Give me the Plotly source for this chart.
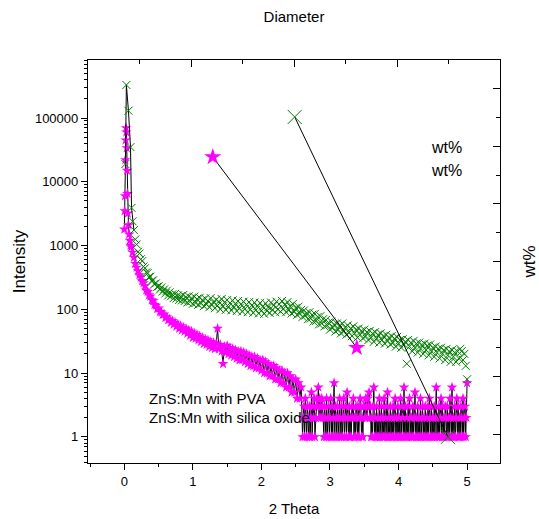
import plotly.graph_objects as go

# ZnS:Mn with PVA (green crosses) - sharp peak then the slow scattering tail
pva_peak_x = [0.015, 0.03, 0.06, 0.09, 0.105]
pva_peak_y = [19000, 330000, 130000, 35000, 3900]
pva_x0, pva_step = 0.12, 0.02
pva_y = [2400, 1750, 1250, 1040, 800, 750, 610, 570, 470, 440,
         380, 370, 320, 325, 280, 285, 250, 255, 225, 230,
         205, 220, 190, 205, 178, 196, 165, 185, 160, 172,
         150, 175, 148, 165, 140, 160, 138, 168, 135, 155,
         128, 160, 132, 150, 122, 158, 126, 145, 118, 152,
         124, 140, 112, 148, 120, 135, 108, 150, 118, 130,
         104, 142, 115, 132, 100, 145, 112, 128, 98, 140,
         110, 125, 96, 138, 108, 122, 94, 135, 104, 120,
         92, 132, 102, 118, 90, 130, 100, 115, 88, 128,
         98, 112, 86, 126, 96, 110, 85, 124, 95, 108,
         88, 128, 98, 115, 90, 132, 100, 120, 92, 135,
         102, 118, 90, 130, 98, 112, 86, 122, 92, 105,
         82, 110, 86, 98, 76, 96, 80, 88, 70, 90,
         72, 82, 64, 85, 66, 76, 58, 78, 60, 70,
         54, 68, 56, 62, 48, 64, 52, 58, 45, 60,
         48, 55, 42, 60, 45, 52, 40, 56, 43, 50,
         38, 54, 42, 48, 36, 50, 40, 46, 35, 48,
         38, 44, 33, 46, 36, 42, 31, 44, 35, 40,
         30, 42, 33, 38, 29, 40, 32, 36, 28, 38,
         30, 35, 26, 37, 29, 33, 25, 34, 28, 31,
         14, 33, 26, 30, 22, 32, 25, 29, 21, 30,
         24, 28, 20, 29, 23, 27, 19, 28, 22, 25,
         18, 26, 21, 24, 17, 25, 20, 23, 16, 24,
         19, 22, 15, 23, 18, 21, 15, 22, 17, 24,
         22, 16, 20, 13, 8]

# ZnS:Mn with silica oxide (magenta stars)
sil_peak_x = [0.0, 0.005, 0.01, 0.015, 0.02, 0.025, 0.03, 0.035,
              0.04, 0.045, 0.05, 0.06, 0.07, 0.08, 0.09]
sil_peak_y = [1800, 3500, 6000, 22000, 45000, 70000, 60000, 34000,
              15000, 6500, 3200, 2100, 1500, 1200, 1000]
sil_x0, sil_step = 0.10, 0.02
sil_y = [950, 780, 650, 520, 455, 400, 345, 318, 280, 258,
         232, 200, 188, 168, 160, 140, 136, 118, 115, 102,
         104, 92, 90, 82, 84, 74, 76, 68, 70, 62,
         66, 58, 62, 54, 58, 50, 55, 47, 52, 45,
         50, 42, 47, 39, 45, 36, 42, 35, 40, 33,
         38, 31, 36, 29, 34, 28, 33, 26, 31, 25,
         30, 24, 29, 50, 24, 28, 22, 14, 26, 21,
         27, 20, 25, 19, 24, 18, 23, 17, 22, 16,
         22, 16, 21, 15, 20, 14, 19, 13, 18, 13,
         18, 12, 17, 12, 16, 11, 16, 10, 15, 10,
         14, 9, 13, 9, 13, 8, 12, 8, 11, 7,
         11, 7, 10, 6, 10, 6, 9, 5, 8, 5,
         8, 4, 7, 4, 6]
# counting-noise tail, 2.60 .. 5.00
tail_x0, tail_step = 2.60, 0.01
tail_y = [1, 2, 3, 1, 4, 2, 1, 3, 2, 1,
          3, 1, 2, 5, 1, 3, 2, 4, 1, 2,
          3, 4, 3, 6, 2, 4, 3, 2, 4, 3,
          2, 1, 3, 2, 1, 4, 1, 2, 3, 1,
          2, 4, 1, 3, 1, 2, 7, 1, 3, 2,
          1, 3, 2, 1, 4, 2, 1, 3, 1, 2,
          4, 1, 2, 3, 1, 5, 2, 1, 3, 1,
          2, 1, 3, 2, 4, 1, 2, 1, 3, 2,
          1, 3, 1, 2, 4, 3, 1, 2, 1, 3,
          3, 2, 4, 3, 2, 4, 3, 5, 2, 3,
          1, 2, 1, 3, 6, 1, 2, 1, 3, 1,
          2, 1, 4, 1, 2, 3, 1, 2, 1, 4,
          1, 2, 3, 1, 5, 1, 2, 1, 3, 1,
          2, 1, 3, 1, 2, 4, 1, 2, 1, 3,
          1, 2, 1, 4, 1, 3, 2, 1, 6, 1,
          3, 1, 2, 1, 3, 1, 4, 2, 1, 2,
          1, 3, 1, 2, 5, 1, 2, 1, 3, 1,
          2, 1, 4, 1, 2, 3, 1, 2, 1, 3,
          1, 2, 1, 3, 1, 4, 2, 1, 3, 1,
          2, 1, 3, 1, 2, 6, 1, 2, 1, 3,
          1, 2, 4, 1, 3, 1, 2, 1, 3, 2,
          1, 3, 1, 2, 1, 4, 2, 1, 6, 1,
          2, 1, 3, 1, 2, 4, 1, 3, 1, 2,
          1, 3, 2, 1, 4, 1, 2, 3, 1, 2,
          7]

# the two straight segments drawn across the plot
star_seg_x = [1.29, 3.39]
star_seg_y = [24500, 25]
cross_seg_x = [2.485, 4.72]
cross_seg_y = [104000, 1.0]

pva_body_x = [round(pva_x0 + i * pva_step, 3) for i in range(len(pva_y))]
sil_x = (sil_peak_x
         + [round(sil_x0 + i * sil_step, 3) for i in range(len(sil_y))]
         + [round(tail_x0 + i * tail_step, 3) for i in range(len(tail_y))])
sil_all = sil_peak_y + sil_y + tail_y

GREEN = "#008000"
MAGENTA = "#FF00FF"
FONT = "Liberation Sans, Arial, sans-serif"

fig = go.Figure()

fig.add_trace(go.Scatter(
    x=sil_x, y=sil_all, mode="lines+markers",
    line=dict(color="black", width=1),
    marker=dict(symbol="star", size=8, color=MAGENTA, line=dict(width=0)),
    showlegend=False))
# green: line only visible through the peak, crosses everywhere
fig.add_trace(go.Scatter(
    x=pva_peak_x + pva_body_x[:2], y=pva_peak_y + pva_y[:2], mode="lines",
    line=dict(color="black", width=1), showlegend=False))
fig.add_trace(go.Scatter(
    x=pva_peak_x + pva_body_x, y=pva_peak_y + pva_y, mode="markers",
    marker=dict(symbol="x-thin", size=8, line=dict(color=GREEN, width=1)),
    showlegend=False))
fig.add_trace(go.Scatter(
    x=star_seg_x, y=star_seg_y, mode="lines+markers",
    line=dict(color="black", width=1),
    marker=dict(symbol="star", size=13, color=MAGENTA, line=dict(width=0)),
    showlegend=False))
fig.add_trace(go.Scatter(
    x=cross_seg_x, y=cross_seg_y, mode="lines+markers",
    line=dict(color="black", width=1),
    marker=dict(symbol="x-thin", size=14, line=dict(color=GREEN, width=1)),
    showlegend=False))

# empty traces so the extra axes get drawn
fig.add_trace(go.Scatter(x=[], y=[], xaxis="x2", yaxis="y", showlegend=False))
fig.add_trace(go.Scatter(x=[], y=[], xaxis="x", yaxis="y2", showlegend=False))
fig.add_trace(go.Scatter(x=[], y=[], xaxis="x", yaxis="y3", showlegend=False))

minor_log = [k * 10 ** d for d in range(-1, 6) for k in range(2, 10)]

fig.update_layout(
    width=539, height=519,
    margin=dict(l=88, r=39, t=60, b=56),
    paper_bgcolor="white", plot_bgcolor="white",
    font=dict(family=FONT, size=13, color="black"),
    xaxis=dict(
        range=[-0.53, 5.48], tickvals=[0, 1, 2, 3, 4, 5], automargin=False,
        ticks="outside", ticklen=6, tickwidth=1, tickcolor="black",
        minor=dict(dtick=0.5, tick0=0, ticks="outside", ticklen=3, tickcolor="black"),
        showline=True, linecolor="black", linewidth=1.2,
        showgrid=False, zeroline=False,
        tickfont=dict(size=13),
        title=dict(text="2 Theta", font=dict(size=15), standoff=15)),
    xaxis2=dict(
        overlaying="x", side="top", anchor="y", range=[0, 4], dtick=1,
        automargin=False,
        ticks="inside", ticklen=7, tickcolor="black",
        minor=dict(dtick=0.5, ticks="inside", ticklen=4, tickcolor="black"),
        showticklabels=False, showline=True, linecolor="black", linewidth=1.2,
        showgrid=False, zeroline=False,
        title=dict(text="Diameter", font=dict(size=15), standoff=32)),
    yaxis=dict(
        type="log", range=[-0.41, 5.91], automargin=False,
        tickvals=[1, 10, 100, 1000, 10000, 100000],
        ticktext=["1", "10", "100", "1000", "10000", "100000"],
        ticks="outside", ticklen=6, tickcolor="black",
        showline=True, linecolor="black", linewidth=1.2,
        showgrid=False, zeroline=False,
        tickfont=dict(size=13),
        title=dict(text="Intensity", font=dict(size=17), standoff=4)),
    yaxis3=dict(
        type="log", range=[-0.41, 5.91], overlaying="y", anchor="x", side="left",
        automargin=False,
        tickvals=minor_log, ticks="outside", ticklen=3, tickcolor="black",
        showticklabels=False, showline=False, showgrid=False, zeroline=False),
    yaxis2=dict(
        overlaying="y", side="right", anchor="x", range=[-0.5, 6.5], dtick=1,
        automargin=False,
        ticks="inside", ticklen=7, tickcolor="black",
        minor=dict(dtick=0.5, ticks="inside", ticklen=4, tickcolor="black"),
        showticklabels=False, showline=True, linecolor="black", linewidth=1.2,
        showgrid=False, zeroline=False,
        title=dict(text="wt%", font=dict(size=17), standoff=22)),
)

# free text labels in the plot area
fig.add_annotation(xref="paper", yref="paper", x=0.869, y=0.782, text="wt%",
                   xanchor="center", yanchor="middle",
                   showarrow=False, font=dict(size=16))
fig.add_annotation(xref="paper", yref="paper", x=0.869, y=0.727, text="wt%",
                   xanchor="center", yanchor="middle",
                   showarrow=False, font=dict(size=16))
fig.add_annotation(xref="paper", yref="paper", x=0.143, y=0.161,
                   xanchor="left", yanchor="middle",
                   text="ZnS:Mn with PVA", showarrow=False, font=dict(size=15))
fig.add_annotation(xref="paper", yref="paper", x=0.143, y=0.112,
                   xanchor="left", yanchor="middle",
                   text="ZnS:Mn with silica oxide", showarrow=False, font=dict(size=15))

fig.write_html("out.html", config={"displayModeBar": False},
               post_script="document.body.style.margin='0px';")
